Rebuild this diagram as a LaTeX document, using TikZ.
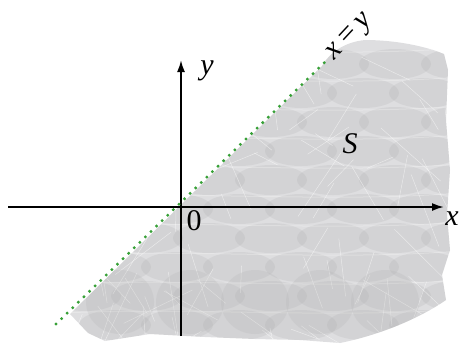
\documentclass[tikz,border=0pt]{standalone}
\usepackage{fontspec}
\setmainfont{Liberation Serif}
\usetikzlibrary{arrows.meta}
\definecolor{dotgreen}{RGB}{55,160,55}
\definecolor{regfill}{RGB}{222,222,224}
\tikzset{
  axis/.style={line width=1.9pt,-{Latex[length=12pt,width=8pt]}},
  diag/.style={dotgreen,line width=3.3pt,line cap=round,dash pattern=on 0pt off 7.8pt},
  lbl/.style={font=\fontsize{30}{32}\selectfont\itshape,inner sep=0pt},
  band/.style={fill=gray!75,opacity=0.16},
  streak/.style={white,opacity=0.5,line width=0.5pt}
}
\def\regionpath{(322,66) .. controls (330,52) and (345,42) .. (365,40) .. controls (395,40) and (425,46) .. (444,54)
 -- (448,70) -- (446,120) -- (450,170) -- (447,215) -- (450,250) -- (442,275) -- (446,300)
 .. controls (420,318) and (380,335) .. (340,343) -- (300,340) -- (255,339) -- (205,337) -- (150,334)
 -- (105,341) -- (88,333) -- (70,314) -- cycle}
\begin{document}
\begin{tikzpicture}[x=1pt,y=-1pt]
\useasboundingbox (0,0) rectangle (462,349);
% shaded region
\fill[regfill] \regionpath;
\begin{scope}
\clip \regionpath;
\foreach \r in {0,...,9}{
  \foreach \c in {0,...,6}{
    \pgfmathsetmacro{\cx}{85+\c*62+mod(\r,2)*30}
    \pgfmathsetmacro{\cy}{64+\r*29}
    \fill[band] (\cx,\cy) ellipse (36pt and 15pt);
  }
}
\foreach \r in {0,...,9}{
  \pgfmathsetmacro{\cy}{52+\r*29}
  \draw[white,opacity=0.25,line width=1pt] (60,\cy) .. controls (200,\cy-6) and (330,\cy+6) .. (460,\cy-4);
}
\pgfmathsetseed{7}
\foreach \k in {1,...,90}{
  \pgfmathsetmacro{\ax}{70+rnd*380}
  \pgfmathsetmacro{\ay}{40+rnd*300}
  \pgfmathsetmacro{\ang}{20+rnd*140}
  \pgfmathsetmacro{\len}{20+rnd*60}
  \draw[streak] (\ax,\ay) -- ++(\ang:\len);
}
\foreach \bx in {120,190,255,320,385}{
  \fill[gray!60,opacity=0.22] (\bx,302) ellipse (34pt and 32pt);
}
\end{scope}
% axes
\coordinate (xl) at (8,207);
\coordinate (xr) at (444,207);
\coordinate (yb) at (181,336);
\coordinate (yt) at (181,60);
\coordinate (d1) at (56,324);
\coordinate (d2) at (325,62);
\draw[axis] (xl) -- (xr);
\draw[axis] (yb) -- (yt);
\draw[diag] (d1) -- (d2);
% labels
\node[lbl] (lx) at (452,219) {x};
\node[lbl] (ly) at (207,71) {y};
\node[lbl,font=\fontsize{30}{32}\selectfont] (l0) at (194,221) {0};
\node[lbl] (lS) at (350,144) {S};
\node[lbl,rotate=47] (lxy) at (351,38) {x\hspace{4pt}=\hspace{4pt}y};
\end{tikzpicture}
\end{document}
